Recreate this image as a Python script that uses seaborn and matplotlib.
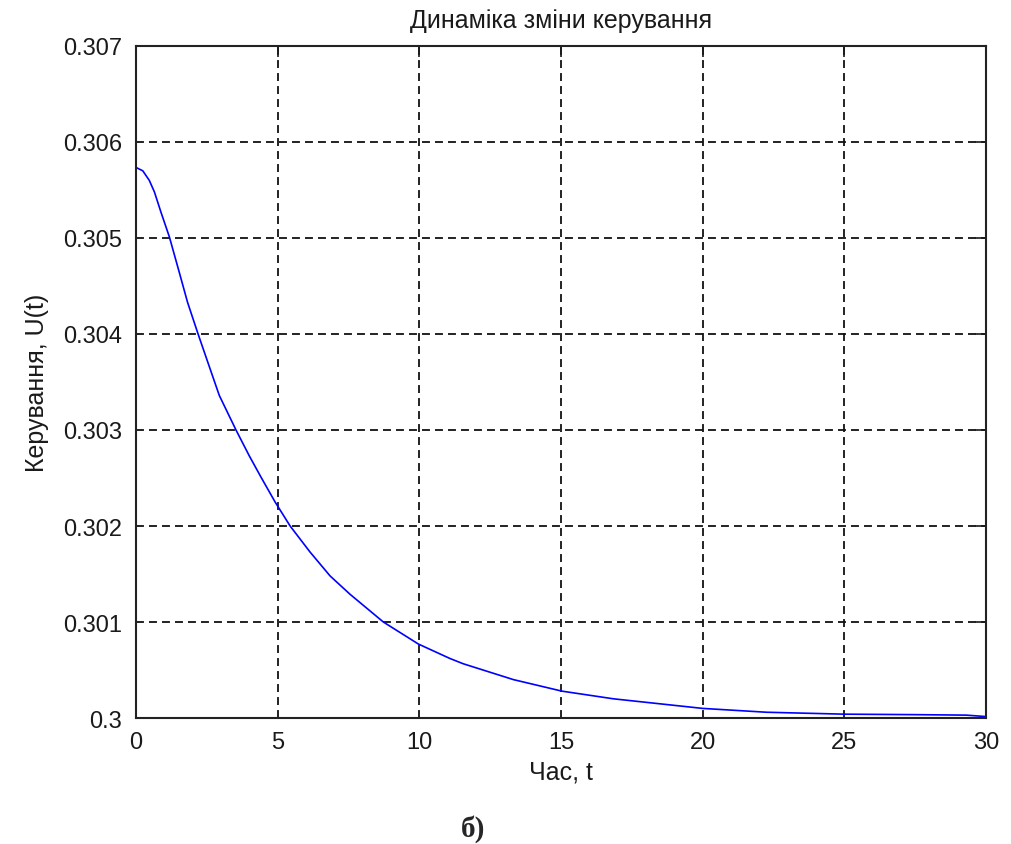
import numpy as np
import pandas as pd
import seaborn as sns
import matplotlib.pyplot as plt

# Дані
time_t = [0, 0.06, 0.24, 0.47, 0.65, 0.88, 1.18, 1.53, 1.82, 2.18, 2.53, 2.94,
          3.53, 4.0, 4.41, 4.91, 5.44, 6.14, 6.85, 7.55, 8.73, 9.97, 11.08,
          11.55, 13.32, 15.03, 16.85, 20, 22.26, 25, 27.5, 29.3, 30]
control_u = [0.305736, 0.305726, 0.30570, 0.30560, 0.30548, 0.30527, 0.30501,
             0.30464, 0.30433, 0.30401, 0.30371, 0.30336, 0.30300, 0.30273,
             0.30251, 0.30225, 0.30200, 0.30173, 0.30148, 0.30129, 0.30100,
             0.30077, 0.30062, 0.300565, 0.30040, 0.30028, 0.30020, 0.30010,
             0.30006, 0.30004, 0.300035, 0.30003, 0.300015]

x_ticks = [0, 5, 10, 15, 20, 25, 30]
y_ticks = [0.3, 0.301, 0.302, 0.303, 0.304, 0.305, 0.306, 0.307]
y_tick_labels = ['0.3', '0.301', '0.302', '0.303', '0.304', '0.305', '0.306', '0.307']

df = pd.DataFrame({'t': time_t, 'u': control_u})

sns.set_style('white')
plt.rcParams['font.family'] = ['Liberation Sans', 'DejaVu Sans']

fig = plt.figure(figsize=(10.11, 8.45), dpi=100)
ax = fig.add_axes([0.1345, 0.1491, 0.8408, 0.7953])

sns.lineplot(data=df, x='t', y='u', ax=ax, color='#0000ff', linewidth=1.2)

ax.set_xlim(0, 30)
ax.set_ylim(0.3, 0.307)
ax.set_xticks(x_ticks)
ax.set_xticklabels([str(v) for v in x_ticks])
ax.set_yticks(y_ticks)
ax.set_yticklabels(y_tick_labels)

ax.grid(True, color='#111111', linestyle=(0, (4.4, 2.8)), linewidth=1.3)
for s in ax.spines.values():
    s.set_visible(True)
    s.set_color('#222222')
    s.set_linewidth(1.5)

ax.tick_params(direction='in', length=8, width=1.2, top=True, right=True,
               labelsize=17, colors='#1a1a1a')
ax.tick_params(axis='x', pad=9)
ax.tick_params(axis='y', pad=10)

ax.set_title('Динаміка зміни керування', fontsize=18, pad=14, color='#1a1a1a')
ax.set_xlabel('Час, t', fontsize=18, labelpad=5, color='#1a1a1a')
ax.set_ylabel('Керування, U(t)', fontsize=18, labelpad=10, color='#1a1a1a')

fig.text(0.468, 0.019, 'б)', fontsize=21, fontweight='bold',
         family=['Liberation Serif', 'DejaVu Serif'], ha='center', va='center')

fig.savefig('out.png', dpi=100, facecolor='white')
